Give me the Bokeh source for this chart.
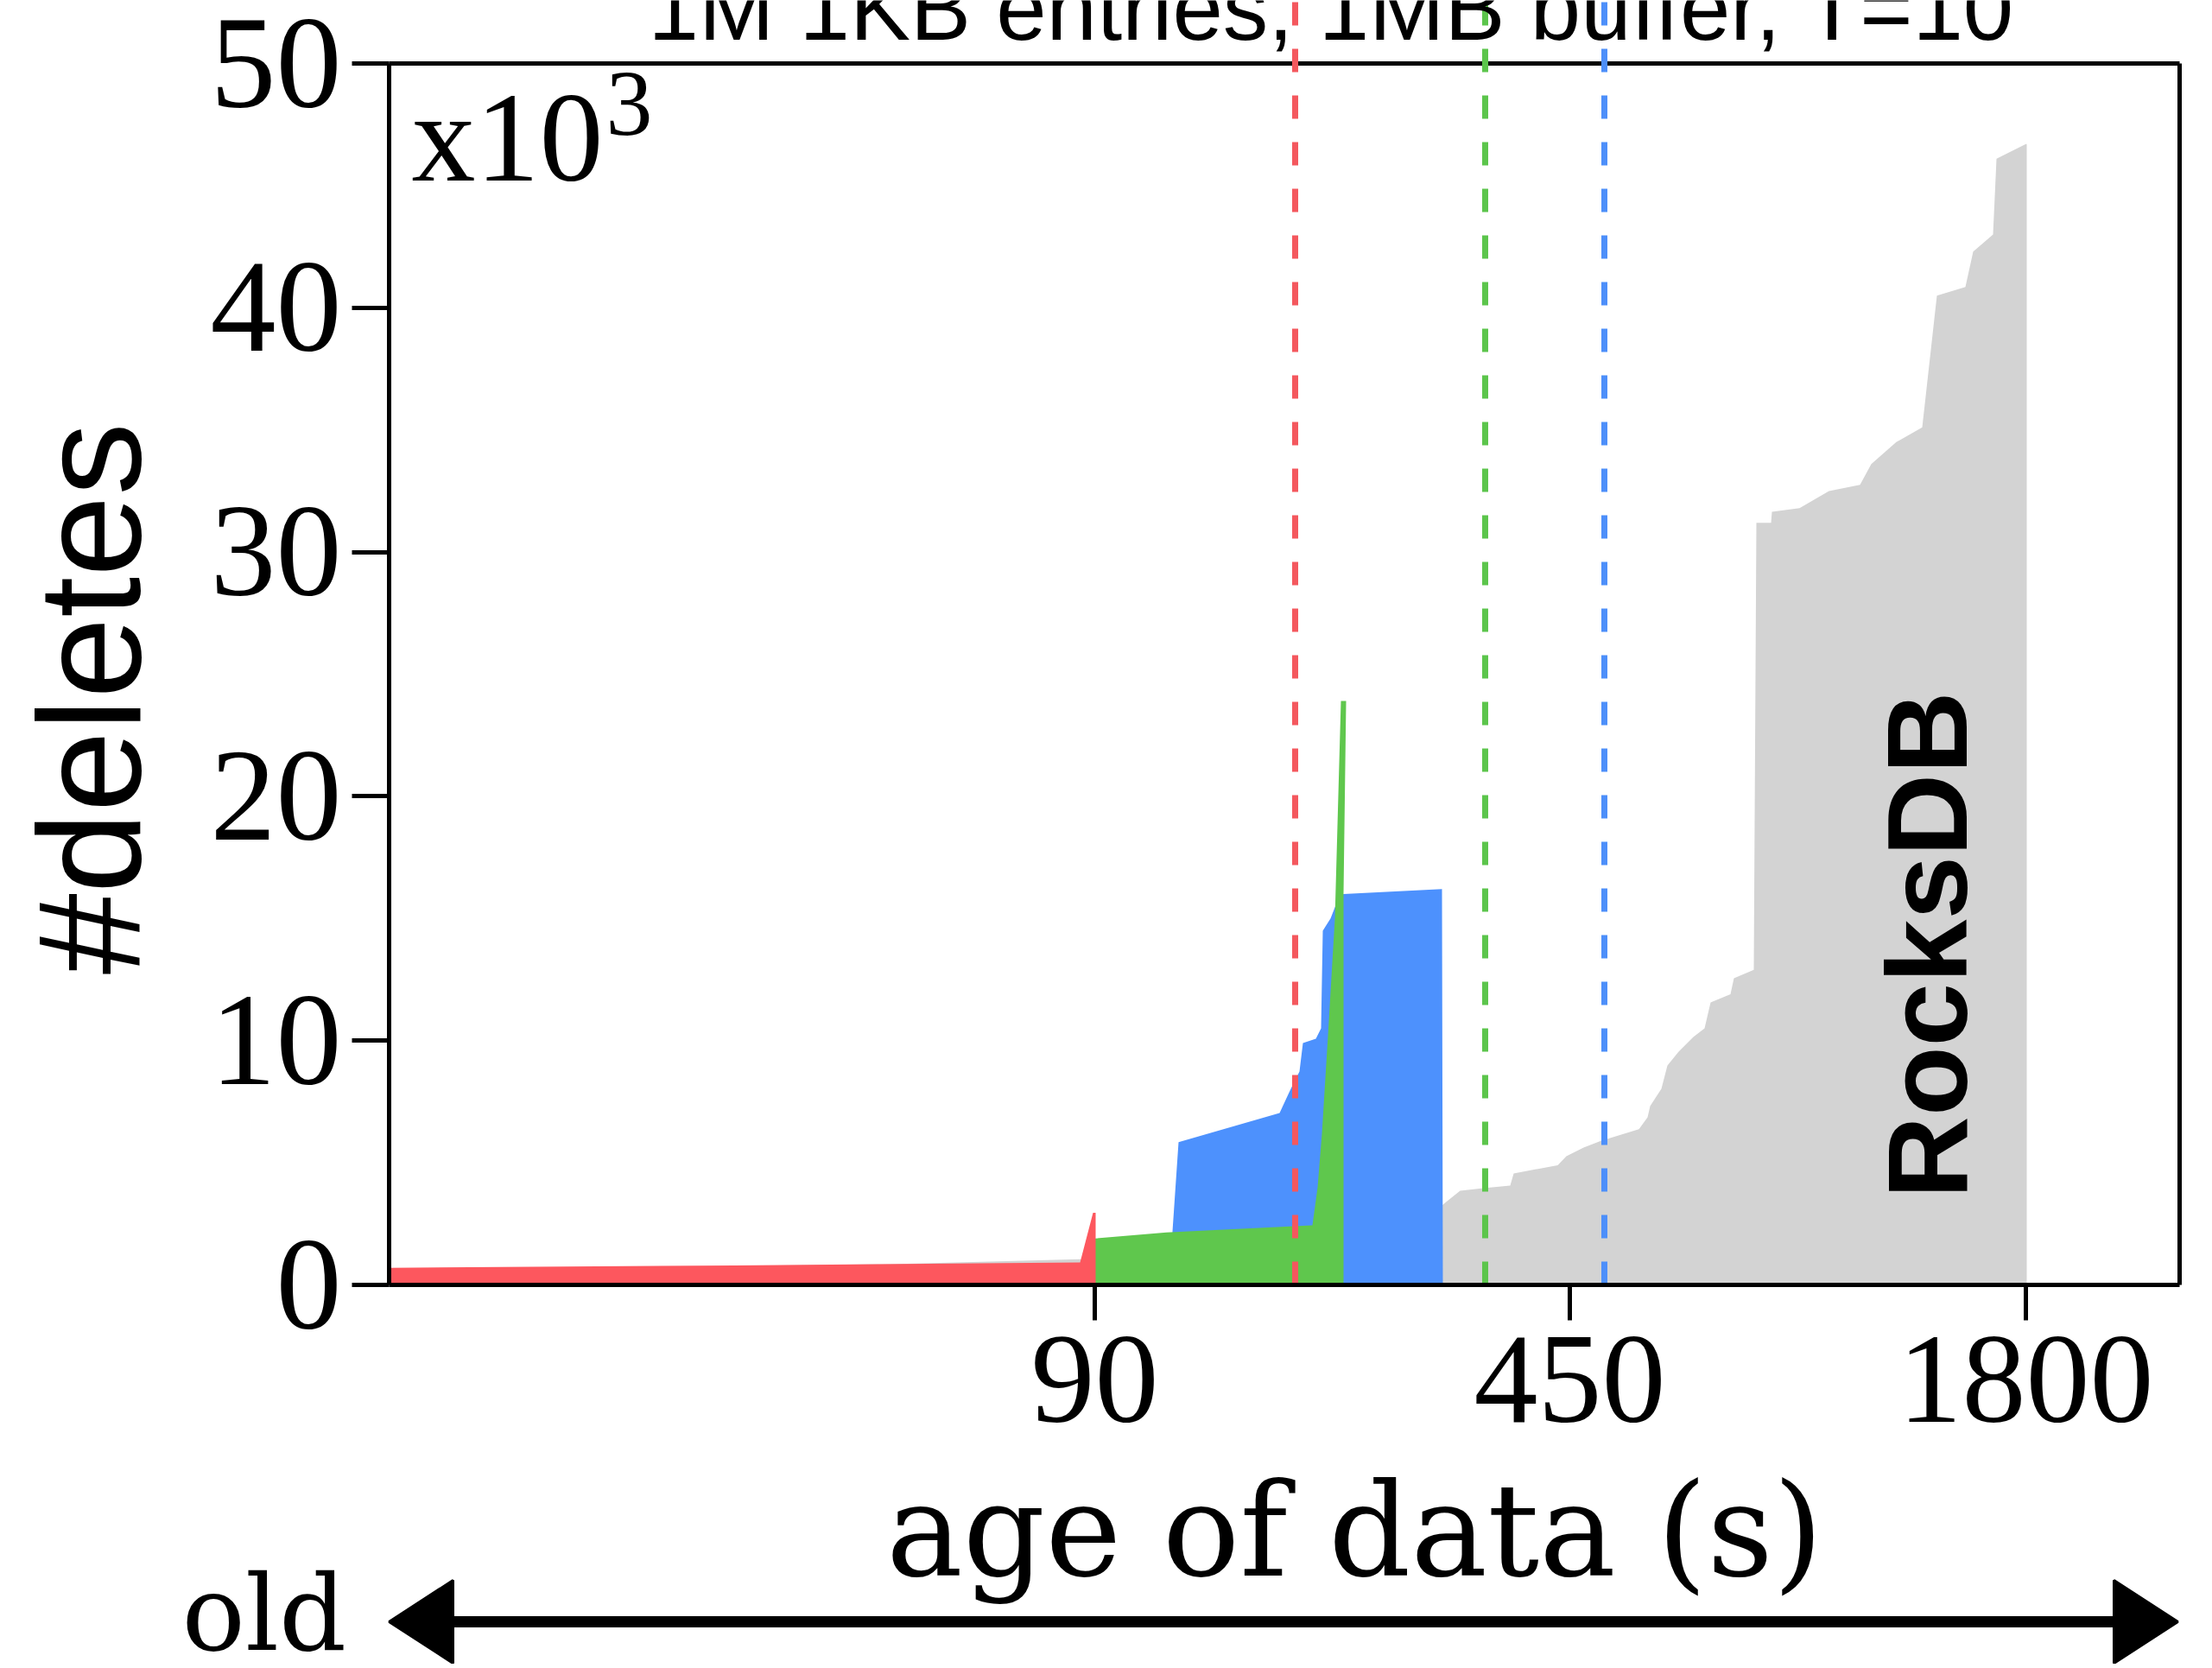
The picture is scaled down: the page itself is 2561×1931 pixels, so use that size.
from math import pi
from bokeh.plotting import figure
from bokeh.models import Range1d, FixedTicker, Label, LinearAxis
from bokeh.embed import file_html
from bokeh.resources import INLINE

# ---------------- data ----------------
# x: position along the (non-linear) age-of-data axis, y: #deletes in thousands
gray_x = [0, 580, 800, 817, 1000, 1219, 1225, 1240, 1267, 1298, 1302, 1353, 1363, 1383,
          1403, 1447, 1457, 1460, 1473, 1480, 1493, 1510, 1523, 1530, 1553, 1557, 1580,
          1583, 1600, 1601, 1633, 1667, 1703, 1716, 1745, 1775, 1792, 1825, 1834, 1857,
          1861, 1889, 1895, 1896, 1896, 0]
gray_y = [0.60, 0.85, 1.05, 1.10, 2.50, 3.25, 3.43, 3.85, 3.96, 4.07, 4.56, 4.90, 5.27, 5.62,
          5.90, 6.37, 6.86, 7.32, 8.03, 8.98, 9.55, 10.15, 10.50, 11.56, 11.90, 12.55, 12.90,
          31.20, 31.20, 31.65, 31.80, 32.50, 32.75, 33.60, 34.50, 35.10, 40.50, 40.85, 42.30, 43.00,
          46.10, 46.60, 46.70, 46.70, 0.0, 0.0]

blue_x = [905, 907, 914, 1031, 1044, 1054, 1058, 1073, 1079, 1081, 1090, 1100, 1105, 1219, 1220]
blue_y = [0.0, 2.2, 5.84, 7.04, 8.03, 8.73, 9.90, 10.08, 10.50, 14.50, 15.00, 15.90, 16.00, 16.20, 0.0]

green_x = [817, 817.5, 900, 1069, 1075, 1080, 1087, 1095, 1102, 1108, 1105, 1105]
green_y = [0.0, 1.90, 2.15, 2.44, 4.0, 6.2, 10.2, 15.0, 23.9, 23.9, 16.0, 0.0]

red_x = [0, 0, 400, 800, 815, 818, 818]
red_y = [0.0, 0.70, 0.80, 0.92, 2.95, 2.95, 0.0]

y_ticks = [0, 10, 20, 30, 40, 50]
x_tick_pos = [817, 1367, 1895]
x_tick_labels = ["90", "450", "1800"]
x_max = 2073
y_max = 50

cutoff_x = [1049, 1269, 1407]
cutoff_colors = ["#F4585E", "#5CC54C", "#4D8FFA"]

title_text = "1M 1KB entries, 1MB buffer, T=10"

# ---------------- layout helpers ----------------
W, H = 2556, 1926
FRAME_LEFT, FRAME_BOTTOM = 450, 1487          # pixel position of data (0, 0)
PX_PER_K = 28.28                              # pixels per 1k deletes
y_top = FRAME_BOTTOM / PX_PER_K
y_bot = -(H - FRAME_BOTTOM) / PX_PER_K

p = figure(width=W, height=H, output_backend="svg", toolbar_location=None,
           x_range=Range1d(-FRAME_LEFT, W - FRAME_LEFT), y_range=Range1d(y_bot, y_top),
           x_axis_location=None, y_axis_location=None, min_border=0, title=None)
p.background_fill_color = "white"
p.border_fill_color = "white"
p.grid.visible = False
p.outline_line_color = None

# areas
p.patch(gray_x, gray_y, fill_color="#D3D3D3", line_color=None)
p.patch(blue_x, blue_y, fill_color="#4D91FD", line_color=None)
p.patch(green_x, green_y, fill_color="#5FC74D", line_color=None)
p.patch(red_x, red_y, fill_color="#FD575E", line_color=None)

# frame top / right borders
p.segment(x0=[0, x_max], y0=[y_max, 0], x1=[x_max, x_max], y1=[y_max, y_max],
          line_color="black", line_width=5)

# vertical dashed cut-off lines (run up to the top of the picture)
p.segment(x0=cutoff_x, y0=[0] * 3, x1=cutoff_x, y1=[y_top + 1] * 3,
          line_color=cutoff_colors, line_width=7, line_dash="27 27")

# axes placed at data zero
ya = LinearAxis(fixed_location=0, bounds=(0, y_max), ticker=FixedTicker(ticks=y_ticks))
ya.axis_line_width = 5
ya.major_tick_line_width = 5
ya.major_tick_out = 43
ya.major_tick_in = 0
ya.minor_tick_line_color = None
ya.major_label_text_font = "Liberation Serif"
ya.major_label_text_font_size = "152px"
ya.major_label_text_color = "black"
ya.major_label_standoff = 12
p.add_layout(ya, "left")

xa = LinearAxis(fixed_location=0, bounds=(0, x_max), ticker=FixedTicker(ticks=x_tick_pos))
xa.major_label_overrides = {t: l for t, l in zip(x_tick_pos, x_tick_labels)}
xa.axis_line_width = 5
xa.major_tick_line_width = 5
xa.major_tick_out = 41
xa.major_tick_in = 0
xa.minor_tick_line_color = None
xa.major_label_text_font = "Liberation Serif"
xa.major_label_text_font_size = "148px"
xa.major_label_text_color = "black"
xa.major_label_standoff = 19
p.add_layout(xa, "below")

# texts
def lab(**kw):
    kw.setdefault("text_color", "black")
    kw.setdefault("text_baseline", "middle")
    p.add_layout(Label(**kw))

lab(x=300, y=52.26, text=title_text, text_font="Liberation Sans", text_font_size="105px",
    text_align="left")
lab(x=26, y=46.99, text="x10", text_font="Liberation Serif", text_font_size="148px",
    text_align="left")
lab(x=251, y=48.33, text="3", text_font="Liberation Serif", text_font_size="108px",
    text_align="left")
lab(x=1781, y=3.54, text="RocksDB", angle=pi / 2, text_font="Liberation Sans",
    text_font_style="bold", text_font_size="132px", text_align="left")
lab(x=-347, y=24.0, text="#deletes", angle=pi / 2, text_font="Liberation Sans",
    text_font_size="169px", text_align="center")
lab(x=1118, y=-10.09, text="age of data (s)", text_font="DejaVu Serif",
    text_font_size="149px", text_align="center")
lab(x=-240, y=-13.45, text="old", text_font="DejaVu Serif", text_font_size="122px",
    text_align="left")

# old <-> new double arrow
arrow_x = [0, 2071]
arrow_y = -13.79
head_len = 74
head_half = 48 / PX_PER_K
p.segment(x0=[arrow_x[0] + head_len / 2], y0=[arrow_y], x1=[arrow_x[1] - head_len / 2], y1=[arrow_y],
          line_color="black", line_width=13)
p.patches(xs=[[arrow_x[0], arrow_x[0] + head_len, arrow_x[0] + head_len],
              [arrow_x[1], arrow_x[1] - head_len, arrow_x[1] - head_len]],
          ys=[[arrow_y, arrow_y + head_half, arrow_y - head_half],
              [arrow_y, arrow_y + head_half, arrow_y - head_half]],
          fill_color="black", line_color="black", line_width=3)

open("out.html", "w").write(file_html(p, INLINE))
